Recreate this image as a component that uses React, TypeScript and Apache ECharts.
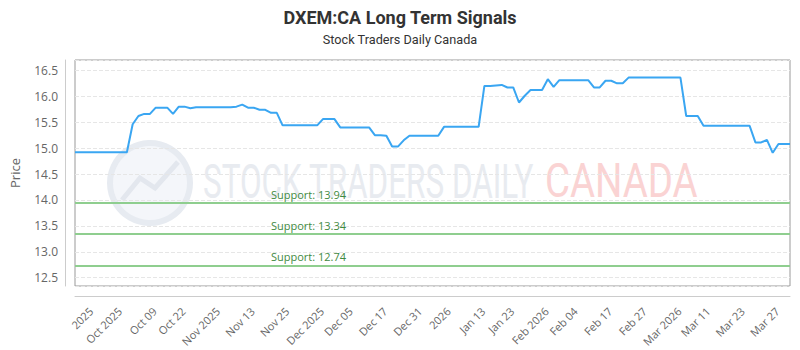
import React, { useEffect, useRef } from "react";
import * as echarts from "echarts";

const titleText = "DXEM:CA Long Term Signals";
const subtitleText = "Stock Traders Daily Canada";

const tickLabels = [
  "2025", "Oct 2025", "Oct 09", "Oct 22", "Nov 2025", "Nov 13", "Nov 25",
  "Dec 2025", "Dec 05", "Dec 17", "Dec 31", "2026", "Jan 13", "Jan 23",
  "Feb 2026", "Feb 04", "Feb 17", "Feb 27", "Mar 2026", "Mar 11", "Mar 23", "Mar 27",
];
const tickIndex = [4, 9, 15, 20, 26, 32, 38, 44, 49, 55, 61, 66, 72, 77, 83, 88, 94, 100, 106, 111, 117, 123];

const prices = [
  14.92, 14.92, 14.92, 14.92, 14.92, 14.92, 14.92, 14.92, 14.92, 14.92,
  15.46, 15.62, 15.66, 15.66, 15.78, 15.78, 15.78, 15.66, 15.80, 15.80,
  15.77, 15.79, 15.79, 15.79, 15.79, 15.79, 15.79, 15.79, 15.80, 15.84,
  15.78, 15.78, 15.74, 15.74, 15.68, 15.68, 15.44, 15.44, 15.44, 15.44,
  15.44, 15.44, 15.44, 15.56, 15.56, 15.56, 15.40, 15.40, 15.40, 15.40,
  15.40, 15.40, 15.25, 15.25, 15.24, 15.03, 15.03, 15.15, 15.24, 15.24,
  15.24, 15.24, 15.24, 15.24, 15.41, 15.41, 15.41, 15.41, 15.41, 15.41,
  15.41, 16.20, 16.20, 16.21, 16.22, 16.17, 16.17, 15.88, 16.01, 16.12,
  16.12, 16.12, 16.33, 16.18, 16.31, 16.31, 16.31, 16.31, 16.31, 16.31,
  16.17, 16.17, 16.30, 16.30, 16.25, 16.25, 16.36, 16.36, 16.36, 16.36,
  16.36, 16.36, 16.36, 16.36, 16.36, 16.36, 15.62, 15.62, 15.62, 15.43,
  15.43, 15.43, 15.43, 15.43, 15.43, 15.43, 15.43, 15.43, 15.11, 15.11,
  15.16, 14.91, 15.08, 15.08, 15.08,
];

const supportLevels = [13.94, 13.34, 12.74];

const categories = prices.map((_, i) => {
  const k = tickIndex.indexOf(i);
  return k >= 0 ? tickLabels[k] : "";
});

export default function App() {
  const ref = useRef<HTMLDivElement>(null);

  useEffect(() => {
    if (!ref.current) return;
    const chart = echarts.init(ref.current, undefined, { renderer: "svg" });
    const font = "'Open Sans', 'Noto Sans', sans-serif";
    chart.setOption({
      animation: false,
      backgroundColor: "#ffffff",
      textStyle: { fontFamily: font },
      title: {
        text: titleText,
        subtext: subtitleText,
        left: "center",
        top: 3,
        itemGap: 7,
        textStyle: { fontFamily: "Roboto, sans-serif", fontSize: 18, fontWeight: "bold", color: "#333333" },
        subtextStyle: { fontFamily: "Roboto, sans-serif", fontSize: 12.7, color: "#333333" },
      },
      grid: {
        left: 70,
        right: 10,
        top: 60,
        bottom: 64,
        show: true,
        borderColor: "#999999",
        borderWidth: 1,
        backgroundColor: "transparent",
      },
      graphic: [
        {
          type: "group",
          z: 0,
          silent: true,
          children: [
            {
              type: "circle",
              shape: { cx: 150, cy: 183, r: 40 },
              style: { fill: "#f4f6fa", stroke: "#e7ebf1", lineWidth: 6 },
            },
            {
              type: "polyline",
              shape: { points: [[122, 200], [140, 178], [155, 188], [178, 162]] },
              style: { stroke: "#e3e7ee", lineWidth: 5, fill: "none" },
            },
            {
              type: "text",
              x: 203,
              y: 181,
              scaleX: 0.655,
              style: {
                text: "STOCK TRADERS DAILY",
                fill: "#e8ebf0",
                font: "48px Roboto, sans-serif",
                verticalAlign: "middle",
                align: "left",
              },
            },
            {
              type: "text",
              x: 545,
              y: 181,
              scaleX: 0.8,
              style: {
                text: "CANADA",
                fill: "#fad3d3",
                font: "48px Roboto, sans-serif",
                verticalAlign: "middle",
                align: "left",
              },
            },
          ],
        },
      ],
      xAxis: {
        type: "category",
        data: categories,
        boundaryGap: false,
        offset: 10,
        axisLine: { show: true, lineStyle: { color: "#cccccc", width: 1 } },
        axisTick: { show: false },
        splitLine: { show: false },
        axisLabel: {
          interval: 0,
          rotate: 45,
          margin: 6,
          padding: [0, 10, 0, 0],
          fontSize: 11,
          color: "#666666",
          fontFamily: font,
        },
      },
      yAxis: {
        type: "value",
        min: 12.34,
        max: 16.7,
        splitNumber: 8,
        offset: 10,
        name: "Price",
        nameLocation: "middle",
        nameGap: 44,
        nameTextStyle: { color: "#666666", fontSize: 13, fontFamily: font },
        axisLine: { show: true, lineStyle: { color: "#cccccc", width: 1 } },
        axisTick: { show: false },
        axisLabel: {
          showMinLabel: false,
          showMaxLabel: false,
          color: "#666666",
          fontSize: 12,
          margin: 7,
          fontFamily: font,
          formatter: (v: number) => v.toFixed(1),
        },
        splitLine: { show: true, lineStyle: { color: "#e6e6e6", type: "dashed", width: 1 } },
      },
      series: [
        {
          type: "line",
          data: prices,
          showSymbol: false,
          symbol: "none",
          z: 5,
          lineStyle: { color: "#3aa6f2", width: 2 },
          itemStyle: { color: "#3aa6f2" },
          markLine: {
            silent: true,
            symbol: ["none", "none"],
            animation: false,
            lineStyle: { color: "#8fce8f", width: 2, type: "solid" },
            label: {
              show: true,
              position: "insideStartTop",
              formatter: (p: any) => "Support: " + Number(p.value).toFixed(2),
              color: "#3f8a3f",
              fontSize: 11,
              fontFamily: font,
              padding: [0, 0, 0, 193],
              distance: 3,
            },
            data: supportLevels.map((v) => ({ yAxis: v })),
          },
        },
      ],
    });
    return () => chart.dispose();
  }, []);

  return (
    <div
      ref={ref}
      style={{ position: "absolute", left: 0, top: 0, width: 800, height: 350 }}
    />
  );
}
